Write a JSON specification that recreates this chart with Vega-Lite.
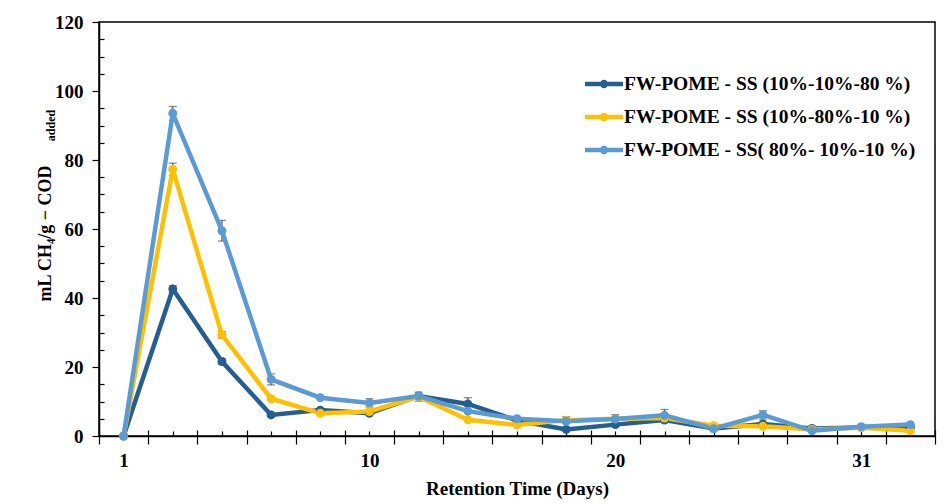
{
  "$schema": "https://vega.github.io/schema/vega-lite/v6.json",
  "width": 836,
  "height": 414,
  "autosize": {"type": "none"},
  "padding": {"left": 99, "top": 22, "right": 15, "bottom": 68},
  "background": "white",
  "config": {
    "view": {"stroke": "black", "strokeWidth": 1.5},
    "axis": {
      "grid": false,
      "labelFont": "Liberation Serif",
      "titleFont": "Liberation Serif",
      "labelFontWeight": "bold",
      "titleFontWeight": "bold",
      "labelFontSize": 19,
      "titleFontSize": 19,
      "labelColor": "black",
      "titleColor": "black",
      "domainColor": "black",
      "tickColor": "black",
      "domainWidth": 1.5,
      "tickWidth": 1.2
    },
    "legend": {
      "orient": "none",
      "legendX": 493,
      "legendY": 50,
      "labelFont": "Liberation Serif",
      "labelFontWeight": "bold",
      "labelFontSize": 19.5,
      "labelColor": "black",
      "labelLimit": 400,
      "symbolType": "M-2,0H2M0.2,0A0.2,0.2 0 1,1 -0.2,0A0.2,0.2 0 1,1 0.2,0",
      "symbolSize": 361,
      "symbolStrokeWidth": 4.5,
      "rowPadding": 10,
      "labelOffset": 8,
      "padding": 0
    }
  },
  "data": {
    "values": [
      {"s": "FW-POME - SS (10%-10%-80 %)", "x": 1, "v": 0, "e": 0},
      {"s": "FW-POME - SS (10%-10%-80 %)", "x": 2, "v": 42.6, "e": 1.0},
      {"s": "FW-POME - SS (10%-10%-80 %)", "x": 3, "v": 21.6, "e": 0.8},
      {"s": "FW-POME - SS (10%-10%-80 %)", "x": 4, "v": 6.1, "e": 0},
      {"s": "FW-POME - SS (10%-10%-80 %)", "x": 5, "v": 7.5, "e": 0},
      {"s": "FW-POME - SS (10%-10%-80 %)", "x": 6, "v": 6.6, "e": 0},
      {"s": "FW-POME - SS (10%-10%-80 %)", "x": 7, "v": 11.6, "e": 0},
      {"s": "FW-POME - SS (10%-10%-80 %)", "x": 8, "v": 9.3, "e": 1.8},
      {"s": "FW-POME - SS (10%-10%-80 %)", "x": 9, "v": 4.5, "e": 0},
      {"s": "FW-POME - SS (10%-10%-80 %)", "x": 10, "v": 1.9, "e": 0},
      {"s": "FW-POME - SS (10%-10%-80 %)", "x": 11, "v": 3.3, "e": 0},
      {"s": "FW-POME - SS (10%-10%-80 %)", "x": 12, "v": 4.6, "e": 0},
      {"s": "FW-POME - SS (10%-10%-80 %)", "x": 13, "v": 2.2, "e": 0},
      {"s": "FW-POME - SS (10%-10%-80 %)", "x": 14, "v": 3.5, "e": 0},
      {"s": "FW-POME - SS (10%-10%-80 %)", "x": 15, "v": 2.2, "e": 0},
      {"s": "FW-POME - SS (10%-10%-80 %)", "x": 16, "v": 2.5, "e": 0},
      {"s": "FW-POME - SS (10%-10%-80 %)", "x": 17, "v": 2.5, "e": 0},
      {"s": "FW-POME - SS (10%-80%-10 %)", "x": 1, "v": 0, "e": 0},
      {"s": "FW-POME - SS (10%-80%-10 %)", "x": 2, "v": 77.3, "e": 1.8},
      {"s": "FW-POME - SS (10%-80%-10 %)", "x": 3, "v": 29.3, "e": 1.0},
      {"s": "FW-POME - SS (10%-80%-10 %)", "x": 4, "v": 10.8, "e": 0},
      {"s": "FW-POME - SS (10%-80%-10 %)", "x": 5, "v": 6.6, "e": 0},
      {"s": "FW-POME - SS (10%-80%-10 %)", "x": 6, "v": 7.1, "e": 0},
      {"s": "FW-POME - SS (10%-80%-10 %)", "x": 7, "v": 11.4, "e": 1.3},
      {"s": "FW-POME - SS (10%-80%-10 %)", "x": 8, "v": 4.7, "e": 0},
      {"s": "FW-POME - SS (10%-80%-10 %)", "x": 9, "v": 3.2, "e": 0},
      {"s": "FW-POME - SS (10%-80%-10 %)", "x": 10, "v": 4.6, "e": 1.0},
      {"s": "FW-POME - SS (10%-80%-10 %)", "x": 11, "v": 5.0, "e": 0},
      {"s": "FW-POME - SS (10%-80%-10 %)", "x": 12, "v": 5.2, "e": 0},
      {"s": "FW-POME - SS (10%-80%-10 %)", "x": 13, "v": 3.0, "e": 0},
      {"s": "FW-POME - SS (10%-80%-10 %)", "x": 14, "v": 2.8, "e": 0},
      {"s": "FW-POME - SS (10%-80%-10 %)", "x": 15, "v": 1.9, "e": 0},
      {"s": "FW-POME - SS (10%-80%-10 %)", "x": 16, "v": 2.4, "e": 0},
      {"s": "FW-POME - SS (10%-80%-10 %)", "x": 17, "v": 1.5, "e": 0},
      {"s": "FW-POME - SS( 80%- 10%-10 %)", "x": 1, "v": 0, "e": 0},
      {"s": "FW-POME - SS( 80%- 10%-10 %)", "x": 2, "v": 93.5, "e": 2.0},
      {"s": "FW-POME - SS( 80%- 10%-10 %)", "x": 3, "v": 59.5, "e": 3.0},
      {"s": "FW-POME - SS( 80%- 10%-10 %)", "x": 4, "v": 16.4, "e": 1.6},
      {"s": "FW-POME - SS( 80%- 10%-10 %)", "x": 5, "v": 11.1, "e": 0},
      {"s": "FW-POME - SS( 80%- 10%-10 %)", "x": 6, "v": 9.6, "e": 1.2},
      {"s": "FW-POME - SS( 80%- 10%-10 %)", "x": 7, "v": 11.6, "e": 0},
      {"s": "FW-POME - SS( 80%- 10%-10 %)", "x": 8, "v": 7.2, "e": 0},
      {"s": "FW-POME - SS( 80%- 10%-10 %)", "x": 9, "v": 5.0, "e": 0},
      {"s": "FW-POME - SS( 80%- 10%-10 %)", "x": 10, "v": 4.3, "e": 0},
      {"s": "FW-POME - SS( 80%- 10%-10 %)", "x": 11, "v": 4.9, "e": 1.3},
      {"s": "FW-POME - SS( 80%- 10%-10 %)", "x": 12, "v": 6.0, "e": 1.7},
      {"s": "FW-POME - SS( 80%- 10%-10 %)", "x": 13, "v": 2.1, "e": 0},
      {"s": "FW-POME - SS( 80%- 10%-10 %)", "x": 14, "v": 6.1, "e": 1.2},
      {"s": "FW-POME - SS( 80%- 10%-10 %)", "x": 15, "v": 1.5, "e": 0},
      {"s": "FW-POME - SS( 80%- 10%-10 %)", "x": 16, "v": 2.7, "e": 0},
      {"s": "FW-POME - SS( 80%- 10%-10 %)", "x": 17, "v": 3.3, "e": 0}
    ]
  },
  "layer": [
    {
      "transform": [{"filter": "datum.e > 0"}],
      "mark": {"type": "errorbar", "ticks": {"size": 8}, "color": "#505050", "thickness": 1.2},
      "encoding": {
        "x": {
          "field": "x", "type": "quantitative",
          "scale": {"domain": [0.5, 17.5], "nice": false, "zero": false},
          "axis": {"orient": "bottom", "values": [0.5,1.5,2.5,3.5,4.5,5.5,6.5,7.5,8.5,9.5,10.5,11.5,12.5,13.5,14.5,15.5,16.5,17.5], "tickSize": -6, "labels": false, "domain": false, "title": null}
        },
        "y": {
          "field": "v", "type": "quantitative",
          "scale": {"domain": [0, 120], "nice": false},
          "axis": {"orient": "left", "values": [5,10,15,25,30,35,45,50,55,65,70,75,85,90,95,105,110,115], "tickSize": -5, "labels": false, "domain": false, "title": null}
        },
        "yError": {"field": "e"}
      }
    },
    {
      "mark": {"type": "line", "strokeWidth": 4.5, "clip": false},
      "encoding": {
        "x": {
          "field": "x", "type": "quantitative",
          "axis": {"orient": "bottom", "values": [1,2,3,4,5,6,7,8,9,10,11,12,13,14,15,16,17], "tickSize": -5,
            "labelExpr": "datum.value == 1 ? '1' : datum.value == 6 ? '10' : datum.value == 11 ? '20' : datum.value == 16 ? '31' : ''",
            "labelPadding": 20, "labelFlush": false, "labelOverlap": false,
            "title": "Retention Time (Days)", "titleY": 43, "titleBaseline": "top"}
        },
        "y": {
          "field": "v", "type": "quantitative",
          "axis": {"orient": "left", "values": [0,20,40,60,80,100,120], "tickSize": 7, "labelPadding": 9,
            "title": "mL CH₄/g − COD", "titleFontSize": 18, "titleAngle": -90, "titleX": -49, "titleY": 211, "titleAlign": "center", "titleBaseline": "alphabetic"}
        },
        "color": {
          "field": "s", "type": "nominal",
          "scale": {"domain": ["FW-POME - SS (10%-10%-80 %)", "FW-POME - SS (10%-80%-10 %)", "FW-POME - SS( 80%- 10%-10 %)"], "range": ["#255E91", "#FFC000", "#5B9BD5"]},
          "legend": {"title": null}
        }
      }
    },
    {
      "mark": {"type": "point", "filled": true, "size": 80, "opacity": 1, "clip": false},
      "encoding": {
        "x": {
          "field": "x", "type": "quantitative",
          "axis": {"orient": "bottom", "values": [0.5,1.5,2.5,3.5,4.5,5.5,6.5,7.5,8.5,9.5,10.5,11.5,12.5,13.5,14.5,15.5,16.5,17.5], "tickSize": 8, "labels": false, "domain": false, "title": null}
        },
        "y": {
          "field": "v", "type": "quantitative",
          "axis": {"orient": "left", "ticks": false, "labels": false, "domain": false,
            "title": "added", "titleFontSize": 12, "titleAngle": -90, "titleX": -45, "titleY": 103, "titleAlign": "center", "titleBaseline": "alphabetic"}
        },
        "color": {"field": "s", "type": "nominal", "legend": {"title": null}}
      }
    }
  ],
  "resolve": {"axis": {"x": "independent", "y": "independent"}}
}
